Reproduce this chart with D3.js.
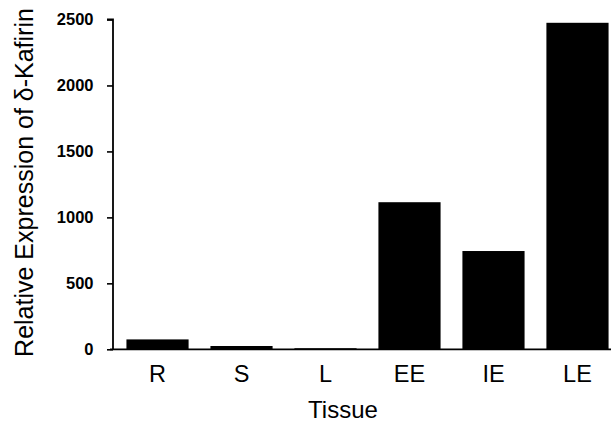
<!DOCTYPE html>
<html>
<head>
<meta charset="utf-8">
<script src="https://cdn.jsdelivr.net/npm/d3@7"></script>
<style>
  html, body { margin: 0; padding: 0; background: #fff; }
  svg { display: block; }
</style>
</head>
<body>
<svg id="chart" width="611" height="423"></svg>
<script>
const categories = ["R", "S", "L", "EE", "IE", "LE"];
const values = [75, 25, 8, 1115, 745, 2475];
const yTicks = [0, 500, 1000, 1500, 2000, 2500];
const yTitle = "Relative Expression of \u03b4-Kafirin";
const xTitle = "Tissue";

const svg = d3.select("#chart");
const W = 611, H = 423;
const x0 = 113, yBase = 349.3, yTop = 19.5;

const x = d3.scaleBand().domain(categories).range([x0, 622]).paddingInner(0.26).paddingOuter(0.16);
const y = d3.scaleLinear().domain([0, 2500]).range([yBase, yTop]);

// bars
svg.append("g").selectAll("rect").data(categories).join("rect")
  .attr("x", d => x(d))
  .attr("width", x.bandwidth())
  .attr("y", (d, i) => y(values[i]))
  .attr("height", (d, i) => y(0) - y(values[i]))
  .attr("fill", "#000");

// y axis
const yAxis = d3.axisLeft(y).tickValues(yTicks).tickSize(6).tickPadding(13.5).tickFormat(d3.format("d"));
const gy = svg.append("g").attr("transform", `translate(${x0},0)`).call(yAxis);
gy.select(".domain").attr("stroke", "#000").attr("stroke-width", 1.8).attr("d", `M-6,${y(2500)}H0V${yBase}`);
gy.selectAll(".tick line").attr("stroke", "#000").attr("stroke-width", 1.6);
gy.selectAll(".tick text")
  .attr("font-family", "Liberation Sans, Arial, sans-serif")
  .attr("font-size", 16.5).attr("font-weight", "bold").attr("fill", "#000");

// x axis
const xAxis = d3.axisBottom(x).tickSize(0).tickPadding(16);
const gx = svg.append("g").attr("transform", `translate(0,${yBase})`).call(xAxis);
gx.select(".domain").attr("stroke", "#000").attr("stroke-width", 1.8).attr("d", `M${x0 - 3},0H${W}`);
gx.selectAll(".tick text")
  .attr("font-family", "Liberation Sans, Arial, sans-serif")
  .attr("font-size", 23.5).attr("fill", "#000");

// axis titles
svg.append("text")
  .attr("x", 343).attr("y", 418)
  .attr("text-anchor", "middle")
  .attr("font-family", "Liberation Sans, Arial, sans-serif")
  .attr("font-size", 24).attr("fill", "#000")
  .text(xTitle);

svg.append("text")
  .attr("transform", "translate(33,182.5) rotate(-90)")
  .attr("text-anchor", "middle")
  .attr("font-family", "Liberation Sans, Arial, sans-serif")
  .attr("font-size", 25).attr("fill", "#000")
  .text(yTitle);
</script>
</body>
</html>
